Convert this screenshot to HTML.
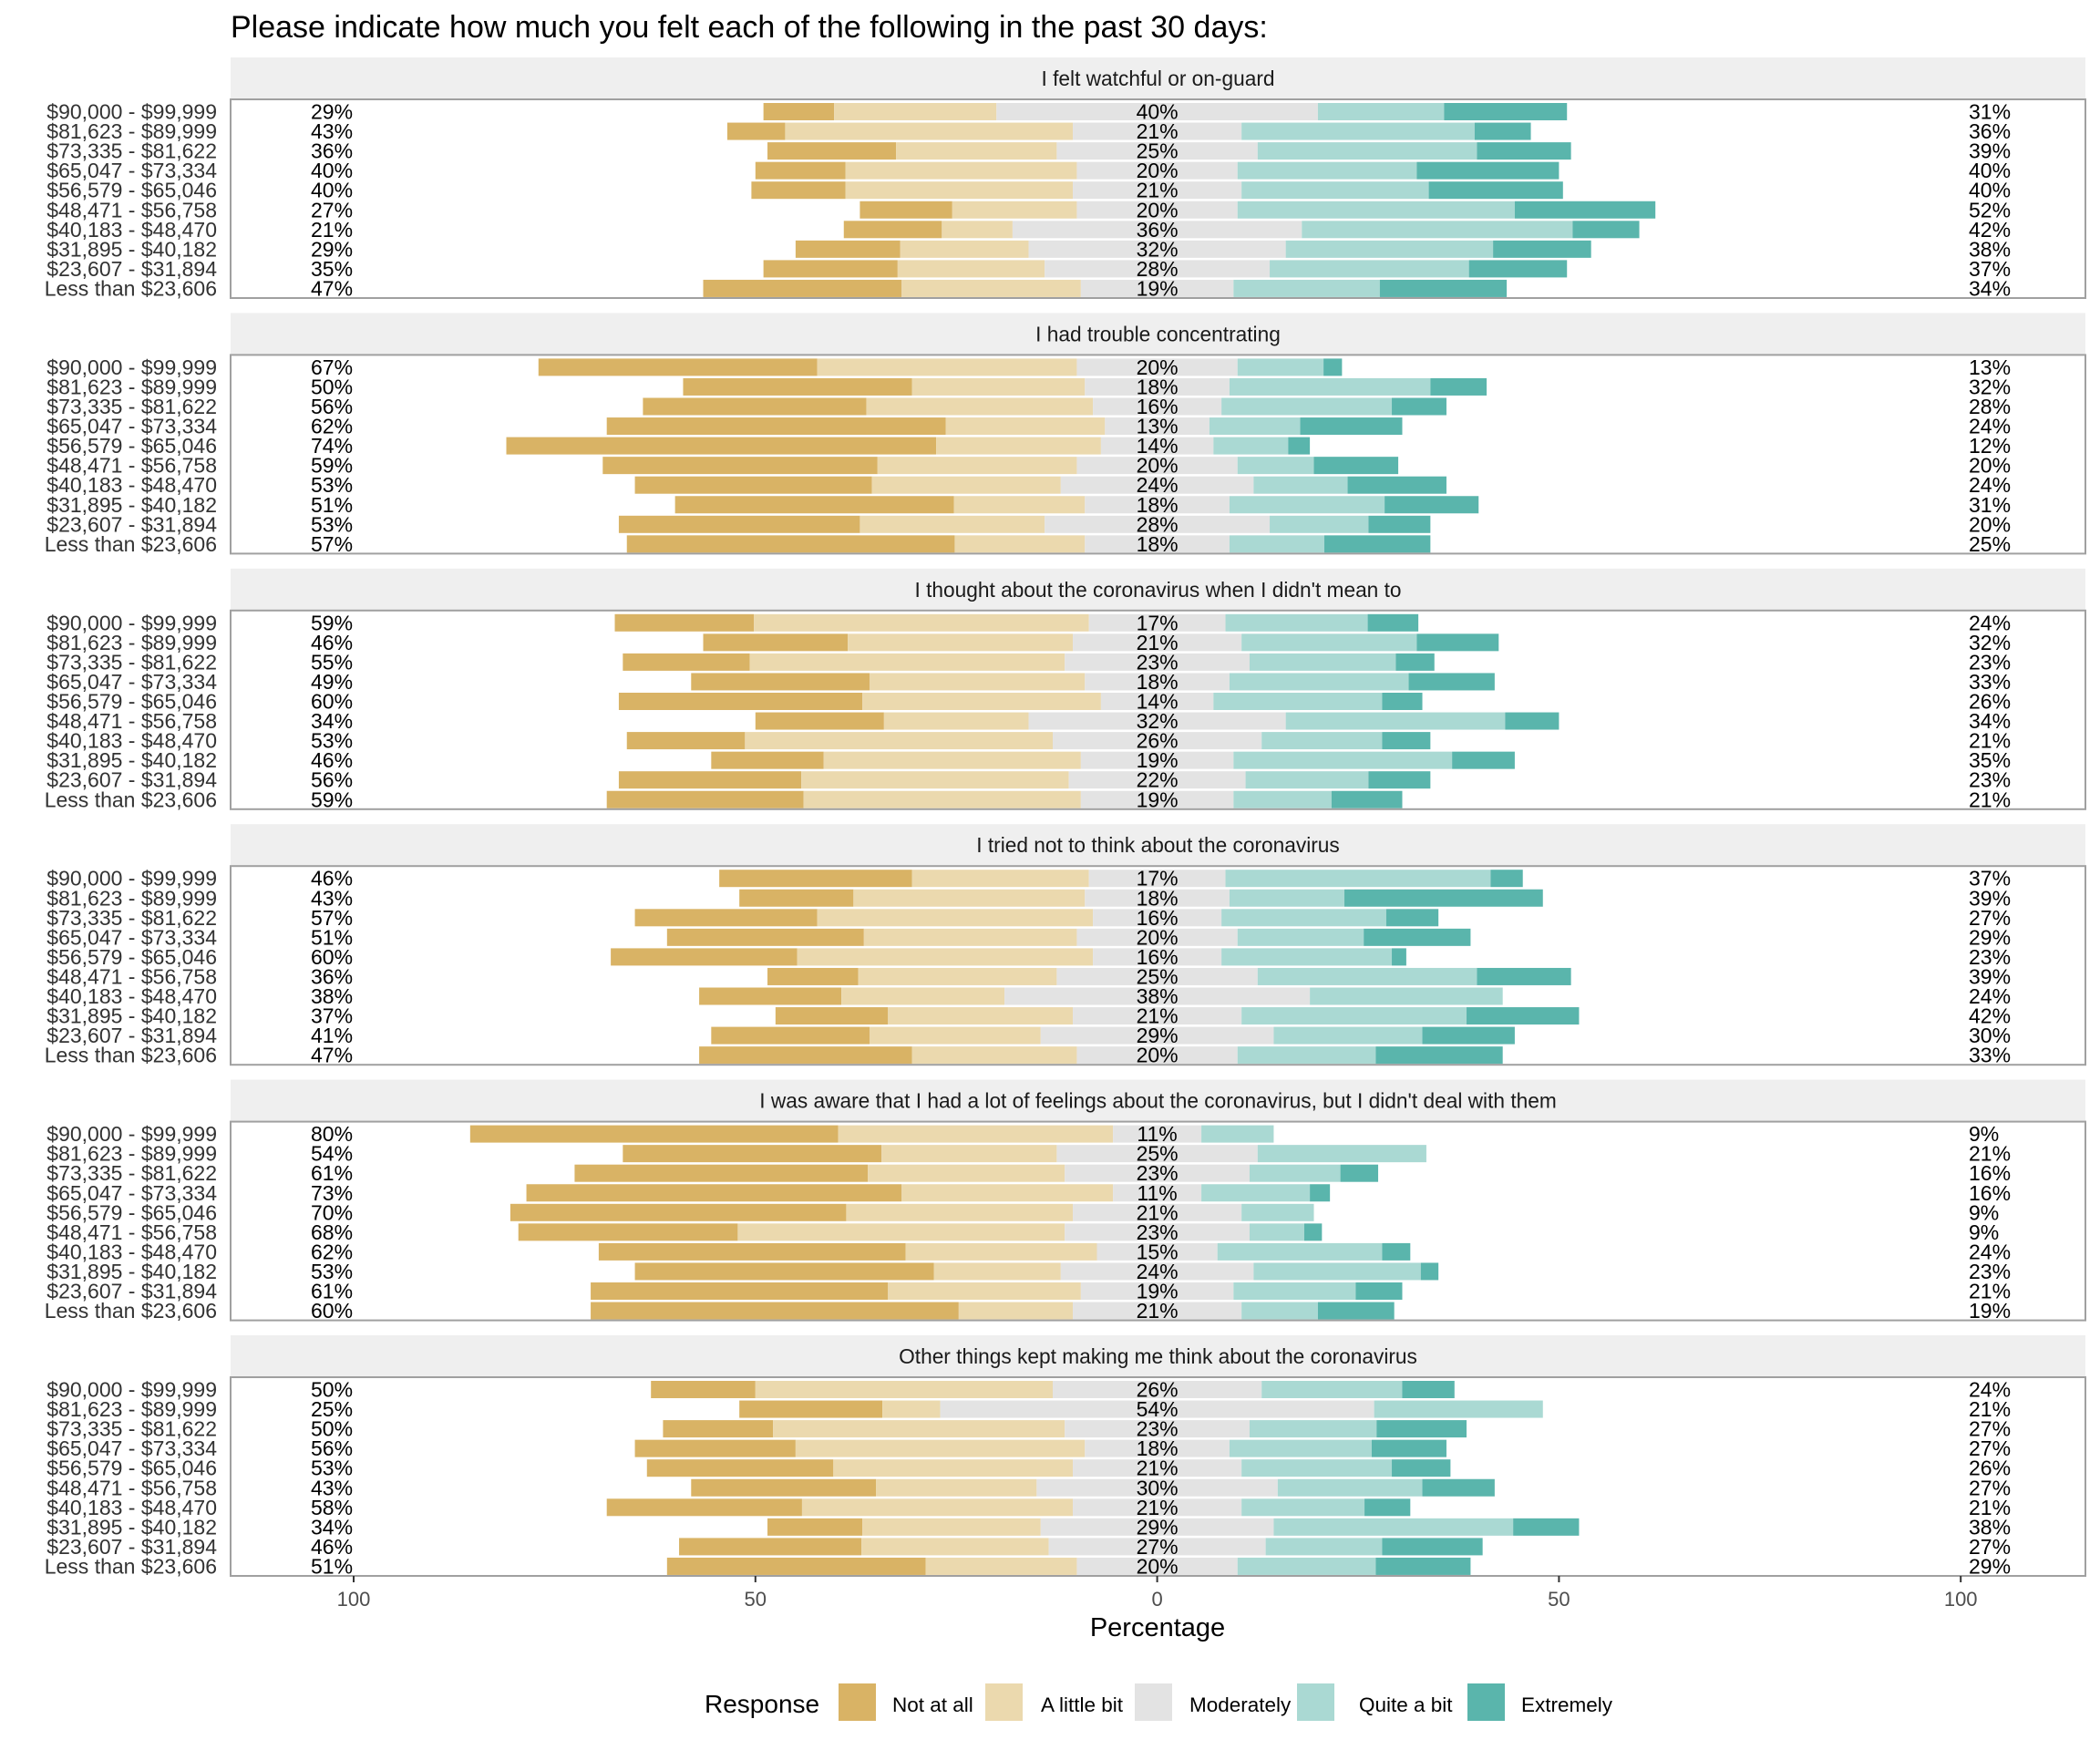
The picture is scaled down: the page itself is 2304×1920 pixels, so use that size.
<!DOCTYPE html>
<html><head><meta charset="utf-8"><style>
body{margin:0;background:#fff;}
svg{display:block;font-family:"Liberation Sans",Arial,sans-serif;}
</style></head><body>
<svg id="chart" width="2304" height="1920" viewBox="0 0 2304 1920" xmlns="http://www.w3.org/2000/svg">
<rect width="2304" height="1920" fill="#fff"/>
<text x="253" y="41" font-size="34" fill="#000">Please indicate how much you felt each of the following in the past 30 days:</text>
<g id="panels"></g>
<g id="xaxis"></g>
<text x="1270" y="1795" font-size="29" text-anchor="middle" fill="#000">Percentage</text>
<g id="legend"></g>
</svg>
<script>
const questions = ["I felt watchful or on-guard","I had trouble concentrating","I thought about the coronavirus when I didn't mean to","I tried not to think about the coronavirus","I was aware that I had a lot of feelings about the coronavirus, but I didn't deal with them","Other things kept making me think about the coronavirus"];
const incomes = ["$90,000 - $99,999","$81,623 - $89,999","$73,335 - $81,622","$65,047 - $73,334","$56,579 - $65,046","$48,471 - $56,758","$40,183 - $48,470","$31,895 - $40,182","$23,607 - $31,894","Less than $23,606"];
const responses = ["Not at all","A little bit","Moderately","Quite a bit","Extremely"];
const xTicks = [-100,-50,0,50,100];
const xTickLabels = ["100","50","0","50","100"];
const notAtAll = [
[8.8,7.2,16,11.2,11.7,11.5,12.2,13,16.7,24.7],
[34.7,28.5,27.8,42.2,53.5,34.2,29.5,34.7,30,40.8],
[17.3,18,15.8,22.2,30.3,16,14.7,14,22.7,24.5],
[24,14.2,22.7,24.5,23.2,11.3,17.7,14,19.7,26.5],
[45.8,32.2,36.5,46.7,41.8,27.3,38.2,37.2,37,45.8],
[13,17.8,13.7,20,23.2,23,24.3,11.8,22.7,32.2]];
const littleBit = [
[20.2,35.8,20,28.8,28.3,15.5,8.8,16,18.3,22.3],
[32.3,21.5,28.2,19.8,20.5,24.8,23.5,16.3,23,16.2],
[41.7,28,39.2,26.8,29.7,18,38.3,32,33.3,34.5],
[22,28.8,34.3,26.5,36.8,24.7,20.3,23,21.3,20.5],
[34.2,21.8,24.5,26.3,28.2,40.7,23.8,15.8,24,14.2],
[37,7.2,36.3,36,29.8,20,33.7,22.2,23.3,18.8]];
const moderately = [
[40,21,25,20,21,20,36,32,28,19],
[20,18,16,13,14,20,24,18,28,18],
[17,21,23,18,14,32,26,19,22,19],
[17,18,16,20,16,25,38,21,29,20],
[11,25,23,11,21,23,15,24,19,21],
[26,54,23,18,21,30,21,29,27,20]];
const quiteABit = [
[15.7,29,27.3,22.3,23.3,34.5,33.7,25.8,24.8,18.2],
[10.7,25,21.2,11.3,9.3,9.5,11.7,19.3,12.3,11.8],
[17.7,21.8,18.2,22.3,21,27.3,15,27.2,15.3,12.2],
[33,14.3,20.5,15.7,21.2,27.3,24,28,18.5,17.2],
[9,21,11.3,13.5,9,6.8,20.5,20.8,15.2,9.5],
[17.5,21,15.8,17.7,18.7,18,15.3,29.8,14.5,17.2]];
const extremely = [
[15.3,7,11.7,17.7,16.7,17.5,8.3,12.2,12.2,15.8],
[2.3,7,6.8,12.7,2.7,10.5,12.3,11.7,7.7,13.2],
[6.3,10.2,4.8,10.7,5,6.7,6,7.8,7.7,8.8],
[4,24.7,6.5,13.3,1.8,11.7,0,14,11.5,15.8],
[0,0,4.7,2.5,0,2.2,3.5,2.2,5.8,9.5],
[6.5,0,11.2,9.3,7.3,9,5.7,8.2,12.5,11.8]];

const colors = ["#D9B365","#EBD9AE","#E3E3E3","#AAD9D3","#5AB5AC"];
const NS = "http://www.w3.org/2000/svg";
const x0 = 1269.6, pxPer = 8.816;
const xScale = v => x0 + v*pxPer;
const panelLeft = 253, panelRight = 2288;
const panelTop0 = 63, stripH = 46, boxH = 218, panelStep = 280.4;
const rowH = 21.55, barH = 19;
function el(tag, attrs, parent){const e=document.createElementNS(NS,tag);for(const k in attrs)e.setAttribute(k,attrs[k]);parent.appendChild(e);return e;}
const panels=document.getElementById('panels');
questions.forEach((q,p)=>{
  const top = panelTop0 + p*panelStep;
  const g = el('g',{},panels);
  
  
  const strip = el('rect',{x:panelLeft,y:top,width:panelRight-panelLeft,height:stripH,fill:'#EFEFEF'},g);
  
  
  const st = el('text',{x:(panelLeft+panelRight)/2,y:top+31,'font-size':22.7,'text-anchor':'middle',fill:'#1a1a1a'},g);
  st.textContent=q;
  
  
  const boxTop = top+stripH;
  incomes.forEach((inc,r)=>{
    const cy = boxTop + 13.5 + r*rowH;
    const vals=[notAtAll[p][r],littleBit[p][r],moderately[p][r],quiteABit[p][r],extremely[p][r]];
    let start = -(vals[0]+vals[1]+vals[2]/2);
    vals.forEach((v,k)=>{
      if(v>0){
        const b=el('rect',{x:xScale(start),y:cy-barH/2,width:v*pxPer,height:barH,fill:colors[k]},g);
        
        
      }
      start+=v;
    });
    const lbl=el('text',{x:238,y:cy+8,'font-size':23,'text-anchor':'end',fill:'#333'},g);
    lbl.textContent=inc;
    
    
    const lp=el('text',{x:341,y:cy+8,'font-size':23,fill:'#000'},g);
    lp.textContent=Math.round(vals[0]+vals[1])+'%';
    
    
    const cp=el('text',{x:x0,y:cy+8,'font-size':23,'text-anchor':'middle',fill:'#000'},g);
    cp.textContent=Math.round(vals[2])+'%';
    
    
    const rp=el('text',{x:2160,y:cy+8,'font-size':23,fill:'#000'},g);
    rp.textContent=Math.round(vals[3]+vals[4])+'%';
    
    
  });
  const box=el('rect',{x:panelLeft,y:boxTop,width:panelRight-panelLeft,height:boxH,fill:'none',stroke:'#A0A0A0','stroke-width':2},g);
  
  
});
const xa=document.getElementById('xaxis');
const axisY = panelTop0 + 5*panelStep + stripH + boxH;
xTicks.forEach((t,i)=>{
  const tk=el('line',{x1:xScale(t),x2:xScale(t),y1:axisY,y2:axisY+7,stroke:'#333','stroke-width':2},xa);
  
  
  const tl=el('text',{x:xScale(t),y:axisY+33,'font-size':22,'text-anchor':'middle',fill:'#4d4d4d'},xa);
  tl.textContent=xTickLabels[i];
  
  
});
const lg=document.getElementById('legend');
const lt=el('text',{x:773,y:1879,'font-size':28,fill:'#000'},lg);
lt.textContent='Response';


const keyX=[920,1081,1245,1423,1610], txtX=[979,1142,1305,1491,1669];
responses.forEach((r,k)=>{
  const s=el('rect',{x:keyX[k],y:1847,width:41,height:41,fill:colors[k]},lg);
  
  
  const t=el('text',{x:txtX[k],y:1878,'font-size':22.5,fill:'#000'},lg);
  t.textContent=r;
  
  
});
</script>
</body></html>
